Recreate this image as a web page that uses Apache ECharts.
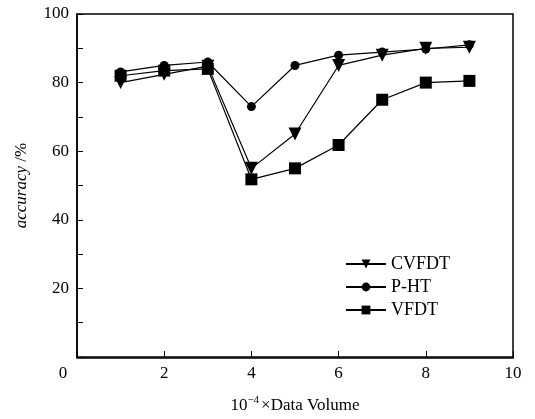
<!DOCTYPE html>
<html>
<head>
<meta charset="utf-8">
<script src="https://cdn.jsdelivr.net/npm/echarts@6/dist/echarts.min.js"></script>
<style>
html, body { margin: 0; padding: 0; background: #fff; }
#chart { width: 535px; height: 419px; }
</style>
</head>
<body>
<div id="chart"></div>
<script>
// x = data volume (x 10^4), y = accuracy in %
const volumes = [1, 2, 3, 4, 5, 6, 7, 8, 9];
const cvfdt = [80, 82.4, 84.8, 55, 65, 85, 88, 90, 90.3];
const pht = [83.1, 85, 86, 73, 85, 88, 88.9, 89.8, 91];
const vfdt = [82, 83.5, 84, 51.8, 55, 61.8, 75, 80, 80.5];

const serif = '"Liberation Serif", "Times New Roman", serif';

function pairs(vals) {
    return vals.map((v, i) => [volumes[i], v]);
}

function makeSerie(name, vals, symbol, size, rotate) {
    return {
        name: name,
        type: 'line',
        data: pairs(vals),
        symbol: symbol,
        symbolSize: size,
        symbolRotate: rotate || 0,
        showAllSymbol: true,
        lineStyle: { color: '#000', width: 1.2 },
        itemStyle: { color: '#000', borderWidth: 0 },
        z: 2
    };
}

let chart = echarts.init(document.getElementById('chart'));
chart.setOption({
    backgroundColor: '#ffffff',
    animation: false,
    textStyle: { fontFamily: serif },
    grid: { left: 77, right: 22, top: 14, bottom: 61 },
    legend: {
        orient: 'vertical',
        left: 340,
        top: 250,
        itemWidth: 40,
        itemHeight: 11,
        itemGap: 5,
        textStyle: { fontFamily: serif, fontSize: 18, color: '#000' },
        data: ['CVFDT', 'P-HT', 'VFDT']
    },
    xAxis: {
        type: 'value',
        min: 0,
        max: 10,
        interval: 2,
        name: '10{s|\u22124}\u00d7Data Volume',
        nameLocation: 'middle',
        nameGap: 38,
        nameTextStyle: {
            fontFamily: serif, fontSize: 17, color: '#000',
            rich: { s: { fontFamily: serif, fontSize: 11, color: '#000', verticalAlign: 'top', padding: [0, 2, 10, 0] } }
        },
        axisLine: { lineStyle: { color: '#000', width: 1.5 } },
        axisTick: { inside: true, length: 6, lineStyle: { color: '#000' } },
        axisLabel: {
            color: '#000', fontSize: 17, fontFamily: serif, margin: 8,
            formatter: v => v === 0 ? '{z|0}' : String(v),
            rich: { z: { fontFamily: serif, fontSize: 17, color: '#000', padding: [0, 28, 0, 0] } }
        },
        splitLine: { show: false }
    },
    yAxis: {
        type: 'value',
        min: 0,
        max: 100,
        interval: 20,
        name: '{i|accuracy} /%',
        nameLocation: 'middle',
        nameGap: 47,
        nameRotate: 90,
        nameTextStyle: {
            fontFamily: serif, fontSize: 17, color: '#000',
            rich: { i: { fontFamily: serif, fontSize: 17, fontStyle: 'italic', color: '#000' } }
        },
        axisLine: { show: true, lineStyle: { color: '#000', width: 1.5 } },
        axisTick: { inside: true, length: 6, lineStyle: { color: '#000' } },
        minorTick: { show: true, splitNumber: 2, length: 6, lineStyle: { color: '#000' } },
        axisLabel: {
            color: '#000', fontSize: 17, fontFamily: serif, margin: 8,
            showMinLabel: false
        },
        splitLine: { show: false }
    },
    graphic: [{
        type: 'rect',
        shape: { x: 77, y: 14, width: 436, height: 344 },
        style: { fill: 'none', stroke: '#000', lineWidth: 1.5 },
        silent: true
    }],
    series: [
        makeSerie('CVFDT', cvfdt, 'triangle', 13, 180),
        makeSerie('P-HT', pht, 'circle', 9),
        makeSerie('VFDT', vfdt, 'rect', 12)
    ]
});
</script>
</body>
</html>
